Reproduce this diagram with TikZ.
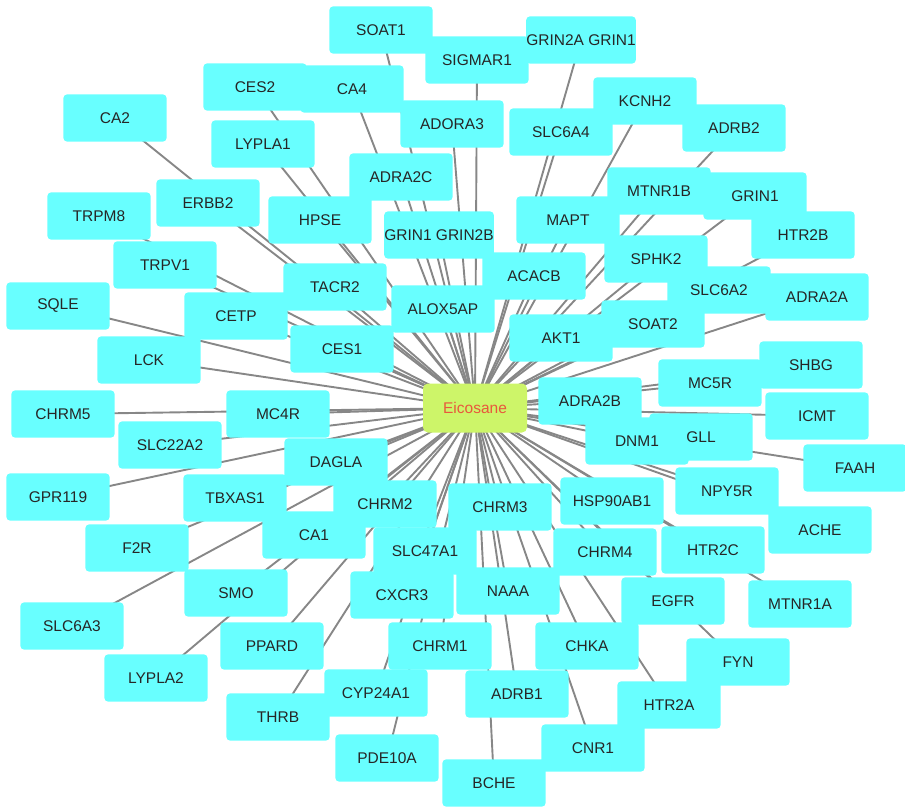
\documentclass[tikz,border=0pt]{standalone}
\usepackage{fontspec}
\setmainfont{Liberation Sans}
\definecolor{gene}{RGB}{104,255,255}
\definecolor{hub}{RGB}{205,245,105}
\definecolor{hubtext}{RGB}{232,88,60}
\definecolor{edgegray}{RGB}{135,135,135}
\pgfdeclarelayer{bg}
\pgfdeclarelayer{boxes}
\pgfsetlayers{bg,boxes,main}
\tikzset{
  genebox/.style={rounded corners=4pt, minimum width=103pt, minimum height=47pt, inner sep=0pt, font=\fontsize{15.5}{18}\selectfont, text=black!85},
  boxfill/.style={fill=gene, rounded corners=4pt},
  hubbox/.style={fill=hub, rounded corners=5pt, minimum width=104pt, minimum height=49pt, inner sep=0pt, font=\fontsize{15.5}{18}\selectfont, text=hubtext},
  edgeline/.style={draw=edgegray, line width=1.9pt}
}
\begin{document}
\begin{tikzpicture}[x=1pt,y=-1pt]
\useasboundingbox (0,0) rectangle (905,808);
\foreach \n/\l/\px/\py in {
soat1/SOAT1/381/30, sigmar1/SIGMAR1/477/60, grintwoa/{GRIN2A GRIN1}/581/40,
ces2/CES2/255/87, ca4/CA4/352/89, ca2/CA2/115/118, adora3/ADORA3/452/124,
slc6a4/SLC6A4/561/132, kcnh2/KCNH2/645/101, adrb2/ADRB2/734/128,
lypla1/LYPLA1/263/144, adra2c/ADRA2C/401/177, mtnr1b/MTNR1B/659/191,
grin1/GRIN1/755/196, erbb2/ERBB2/208/203, trpm8/TRPM8/99/216, hpse/HPSE/320/220,
mapt/MAPT/568/220, grinonetwob/{GRIN1 GRIN2B}/439/235, htr2b/HTR2B/803/235,
sphk2/SPHK2/656/259, trpv1/TRPV1/165/265, acacb/ACACB/534/276, tacr2/TACR2/335/287,
slc6a2/SLC6A2/719/290, adra2a/ADRA2A/817/297, sqle/SQLE/58/306, alox5ap/ALOX5AP/443/309,
cetp/CETP/236/316, soat2/SOAT2/653/324, akt1/AKT1/561/338, ces1/CES1/342/349,
lck/LCK/149/360, shbg/SHBG/811/365, mc5r/MC5R/710/383, adra2b/ADRA2B/590/401,
chrm5/CHRM5/63/414, mc4r/MC4R/278/414, icmt/ICMT/817/416, gll/GLL/701/437,
dnm1/DNM1/637/441, slc22a2/SLC22A2/170/445, dagla/DAGLA/336/462, faah/FAAH/855/468,
npy5r/NPY5R/727/491, gpr119/GPR119/58/497, tbxas1/TBXAS1/235/498, hsp/HSP90AB1/612/501,
chrm2/CHRM2/385/504, chrm3/CHRM3/500/507, ache/ACHE/820/530, ca1/CA1/314/535,
f2r/F2R/137/548, slc47a1/SLC47A1/425/551, htr2c/HTR2C/713/550, chrm4/CHRM4/605/552,
naaa/NAAA/508/591, smo/SMO/236/593, cxcr3/CXCR3/402/595, egfr/EGFR/673/601,
mtnr1a/MTNR1A/800/604, slc6a3/SLC6A3/72/626, ppard/PPARD/272/646, chrm1/CHRM1/440/646,
chka/CHKA/587/646, fyn/FYN/738/662, lypla2/LYPLA2/156/678, cyp/CYP24A1/376/693,
adrb1/ADRB1/517/694, htr2a/HTR2A/669/705, thrb/THRB/278/717, cnr1/CNR1/593/748,
pde10a/PDE10A/387/758, bche/BCHE/494/783}
{
  \node[genebox] (\n) at (\px,\py) {\l};
  \begin{pgfonlayer}{boxes}
    \fill[boxfill] (\n.south west) rectangle (\n.north east);
  \end{pgfonlayer}
}
\node[hubbox] (hub) at (475,408) {Eicosane};
\begin{pgfonlayer}{bg}
\foreach \n in {soat1,sigmar1,grintwoa,ces2,ca4,ca2,adora3,slc6a4,kcnh2,adrb2,
lypla1,adra2c,mtnr1b,grin1,erbb2,trpm8,hpse,mapt,grinonetwob,htr2b,sphk2,trpv1,
acacb,tacr2,slc6a2,adra2a,sqle,alox5ap,cetp,soat2,akt1,ces1,lck,shbg,mc5r,adra2b,
chrm5,mc4r,icmt,gll,dnm1,slc22a2,dagla,faah,npy5r,gpr119,tbxas1,hsp,chrm2,chrm3,
ache,ca1,f2r,slc47a1,htr2c,chrm4,naaa,smo,cxcr3,egfr,mtnr1a,slc6a3,ppard,chrm1,
chka,fyn,lypla2,cyp,adrb1,htr2a,thrb,cnr1,pde10a,bche}
{
  \draw[edgeline] (hub.center) -- (\n.center);
}
\end{pgfonlayer}
\end{tikzpicture}
\end{document}
